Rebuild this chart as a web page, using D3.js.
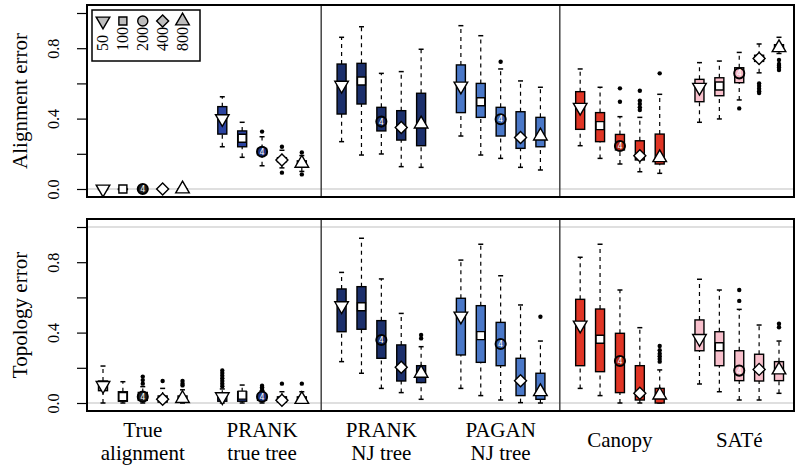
<!DOCTYPE html>
<html>
<head>
<meta charset="utf-8">
<script src="https://cdn.jsdelivr.net/npm/d3@7"></script>
<style>
  body { margin: 0; background: #fff; }
  text { font-family: "Liberation Serif", "Times New Roman", serif; fill: #000; }
</style>
</head>
<body>
<svg id="chart" width="798" height="468"></svg>
<script>
// sequence lengths (one box per length inside every method group)
const lengths = ["50", "100", "200", "400", "800"];
const groupLabels = [["True", "alignment"], ["PRANK", "true tree"], ["PRANK", "NJ tree"],
                     ["PAGAN", "NJ tree"], ["Canopy"], ["SATé"]];
const groupColors = ["#8a8a8a", "#2c44a0", "#1b2f6b", "#4a78c8", "#e03525", "#f8c0cc"];
const circleFill = ["#222222", "#1f347f", "#1b2f6b", "#3a64b0", "#b02818", "#f4b4c2"];

// box stats: [lower whisker, q1, median, q3, upper whisker, [outliers]]
const alignTrueAln = [[0,0,0,0,0,[]], [0,0,0,0,0,[]], [0,0,0,0,0,[]], [0,0,0,0,0,[]], [0,0,0,0,0,[]]];
const alignPrankTrue = [
  [0.24, 0.312, 0.40, 0.468, 0.524, []],
  [0.18, 0.24, 0.288, 0.33, 0.379, []],
  [0.132, 0.195, 0.212, 0.23, 0.297, [0.326]],
  [0.12, 0.155, 0.165, 0.178, 0.22, [0.24, 0.093]],
  [0.10, 0.135, 0.146, 0.16, 0.19, [0.208, 0.083]]];
const alignPrankNJ = [
  [0.269, 0.426, 0.59, 0.71, 0.862, []],
  [0.193, 0.483, 0.614, 0.714, 0.922, []],
  [0.199, 0.33, 0.383, 0.464, 0.657, []],
  [0.127, 0.278, 0.35, 0.445, 0.667, []],
  [0.123, 0.246, 0.369, 0.544, 0.794, []]];
const alignPaganNJ = [
  [0.301, 0.434, 0.585, 0.705, 0.928, []],
  [0.193, 0.407, 0.496, 0.60, 0.871, []],
  [0.174, 0.301, 0.396, 0.464, 0.682, [0.723]],
  [0.123, 0.231, 0.293, 0.439, 0.614, []],
  [0.108, 0.24, 0.301, 0.407, 0.578, []]];
const alignCanopy = [
  [0.246, 0.339, 0.464, 0.553, 0.682, []],
  [0.174, 0.269, 0.36, 0.434, 0.578, []],
  [0.142, 0.222, 0.244, 0.31, 0.411, [0.496, 0.572]],
  [0.098, 0.165, 0.189, 0.274, 0.407, [0.449, 0.464, 0.483, 0.502, 0.558]],
  [0.089, 0.142, 0.178, 0.312, 0.538, [0.657]]];
const alignSate = [
  [0.379, 0.496, 0.578, 0.623, 0.718, []],
  [0.398, 0.53, 0.585, 0.632, 0.727, []],
  [0.506, 0.604, 0.657, 0.689, 0.776, [0.458]],
  [0.66, 0.725, 0.742, 0.76, 0.824, [0.545, 0.555, 0.57, 0.585, 0.60]],
  [0.77, 0.79, 0.803, 0.82, 0.862, [0.676, 0.69, 0.70, 0.71, 0.733]]];

const topoTrueAln = [
  [0, 0.07, 0.10, 0.125, 0.21, []],
  [0, 0.01, 0.036, 0.064, 0.121, []],
  [0, 0.015, 0.036, 0.06, 0.093, [0.11, 0.13, 0.15]],
  [0, 0.005, 0.021, 0.04, 0.083, [0.125]],
  [0, 0.005, 0.025, 0.04, 0.075, [0.10, 0.11, 0.125]]];
const topoPrankTrue = [
  [0, 0.01, 0.036, 0.05, 0.08, [0.095, 0.11, 0.125, 0.14, 0.155, 0.17, 0.185]],
  [0, 0.01, 0.045, 0.064, 0.102, []],
  [0, 0.015, 0.036, 0.05, 0.07, [0.08, 0.09, 0.098]],
  [0, 0.005, 0.015, 0.035, 0.064, [0.11]],
  [0, 0.005, 0.02, 0.035, 0.064, [0.11]]];
const topoPrankNJ = [
  [0.235, 0.405, 0.553, 0.648, 0.742, []],
  [0.169, 0.419, 0.547, 0.661, 0.936, []],
  [0.083, 0.254, 0.358, 0.468, 0.705, []],
  [0.059, 0.125, 0.203, 0.33, 0.509, []],
  [0.021, 0.116, 0.169, 0.212, 0.32, [0.367, 0.386]]];
const topoPaganNJ = [
  [0.083, 0.273, 0.494, 0.595, 0.812, []],
  [0.042, 0.231, 0.383, 0.553, 0.902, []],
  [0.017, 0.212, 0.335, 0.458, 0.723, []],
  [0.002, 0.042, 0.127, 0.254, 0.557, []],
  [0, 0.021, 0.064, 0.169, 0.352, [0.49]]];
const topoCanopy = [
  [0.083, 0.212, 0.443, 0.589, 0.828, []],
  [0.042, 0.178, 0.362, 0.534, 0.902, []],
  [0, 0.059, 0.239, 0.396, 0.642, []],
  [0, 0.017, 0.055, 0.212, 0.428, []],
  [0, 0, 0.045, 0.083, 0.188, [0.235, 0.25, 0.265, 0.28, 0.30, 0.324]]];
const topoSate = [
  [0.108, 0.297, 0.367, 0.472, 0.703, []],
  [0.064, 0.212, 0.32, 0.405, 0.642, []],
  [0.017, 0.127, 0.184, 0.297, 0.532, [0.58, 0.642]],
  [0.017, 0.125, 0.191, 0.277, 0.443, []],
  [0.055, 0.127, 0.188, 0.235, 0.352, [0.43, 0.45]]];

const alignmentData = [alignTrueAln, alignPrankTrue, alignPrankNJ, alignPaganNJ, alignCanopy, alignSate];
const topologyData = [topoTrueAln, topoPrankTrue, topoPrankNJ, topoPaganNJ, topoCanopy, topoSate];

const svg = d3.select("#chart");
const left = 87, right = 794;

// box positions: 5 boxes per group, one empty slot between groups
const x = d3.scaleLinear().domain([1, 35]).range([103, 779]);
const pos = (g, i) => 1 + g * 6 + i;
const boxW = 9;

// marker shapes for the medians
const markerPath = [
  d3.symbol(d3.symbolTriangle, 80)(),
  d3.symbol(d3.symbolSquare, 64)(),
  d3.symbol(d3.symbolCircle, 80)(),
  d3.symbol(d3.symbolSquare, 72)(),
  d3.symbol(d3.symbolTriangle, 80)()
];
const markerRot = [180, 0, 0, 45, 0];

function drawMarker(sel, i, fill) {
  const m = sel.append("path")
    .attr("d", markerPath[i])
    .attr("fill", fill)
    .attr("stroke", "#000")
    .attr("stroke-width", i === 2 ? 2 : 1.4);
  return m;
}

const panels = [
  { top: 5, bottom: 197, data: alignmentData, title: "Alignment error", lineAtOne: false },
  { top: 219, bottom: 411, data: topologyData, title: "Topology error", lineAtOne: true }
];

panels.forEach(p => {
  const y = d3.scaleLinear().domain([0, 1]).range([p.bottom - 8, p.bottom - 8 - 176]);
  const g = svg.append("g");

  // light reference lines
  const refs = p.lineAtOne ? [0, 1] : [0];
  g.selectAll("line.ref")
    .data(refs)
    .enter()
    .append("line")
    .attr("x1", left).attr("x2", right)
    .attr("y1", d => y(d)).attr("y2", d => y(d))
    .attr("stroke", "#d4d4d4")
    .attr("stroke-width", 1.5);

  // y axis
  const axis = d3.axisLeft(y)
    .tickValues([0, 0.2, 0.4, 0.6, 0.8, 1.0])
    .tickSize(10)
    .tickFormat(d => (Math.round(d * 10) % 4 === 0 && d < 1) ? d3.format(".1f")(d) : "");
  const ax = g.append("g")
    .attr("transform", `translate(${left},0)`)
    .call(axis);
  ax.select(".domain").remove();
  ax.selectAll(".tick line").attr("stroke-width", 1.2);
  ax.selectAll(".tick text")
    .attr("x", null).attr("dy", null)
    .attr("transform", "translate(-28,0) rotate(-90)")
    .attr("text-anchor", "middle")
    .style("font-family", "'Liberation Serif', serif")
    .style("font-size", "16px");

  g.append("text")
    .attr("transform", `translate(27,${(p.top + p.bottom) / 2}) rotate(-90)`)
    .attr("text-anchor", "middle")
    .style("font-size", "21px")
    .text(p.title);

  // boxes
  p.data.forEach((groupStats, gi) => {
    groupStats.forEach((s, i) => {
      const cx = x(pos(gi, i));
      const b = g.append("g");
      // whiskers
      b.selectAll("line.whisk")
        .data([[s[0], s[1]], [s[3], s[4]]])
        .enter()
        .append("line")
        .attr("x1", cx).attr("x2", cx)
        .attr("y1", d => y(d[0])).attr("y2", d => y(d[1]))
        .attr("stroke", "#000")
        .attr("stroke-width", 1.2)
        .attr("stroke-dasharray", "4,4");
      b.selectAll("line.cap")
        .data([s[0], s[4]])
        .enter()
        .append("line")
        .attr("x1", cx - 2.5).attr("x2", cx + 2.5)
        .attr("y1", d => y(d)).attr("y2", d => y(d))
        .attr("stroke", "#000")
        .attr("stroke-width", 1.5);
      // box
      b.append("rect")
        .attr("x", cx - boxW / 2)
        .attr("y", y(s[3]))
        .attr("width", boxW)
        .attr("height", Math.max(0.5, y(s[1]) - y(s[3])))
        .attr("fill", groupColors[gi])
        .attr("stroke", "#000")
        .attr("stroke-width", 1.4);
      b.append("line")
        .attr("x1", cx - boxW / 2).attr("x2", cx + boxW / 2)
        .attr("y1", y(s[2])).attr("y2", y(s[2]))
        .attr("stroke", "#000").attr("stroke-width", 2.5);
      // outliers
      b.selectAll("circle.out")
        .data(s[5])
        .enter()
        .append("circle")
        .attr("cx", cx).attr("cy", d => y(d))
        .attr("r", 2.2)
        .attr("fill", "#000");
      // median marker
      const fill = i === 2 ? circleFill[gi] : "#fff";
      drawMarker(b, i, fill)
        .attr("transform", `translate(${cx},${y(s[2])}) rotate(${markerRot[i]})`);
      if (i === 2) {
        b.append("text")
          .attr("x", cx).attr("y", y(s[2]) + 3)
          .attr("text-anchor", "middle")
          .style("font-size", "8px")
          .style("font-family", "'DejaVu Sans', sans-serif")
          .style("fill", "#fff")
          .text("4");
      }
    });
  });

  // group dividers
  g.selectAll("line.div")
    .data([12, 24])
    .enter()
    .append("line")
    .attr("x1", d => x(d) - 0.5).attr("x2", d => x(d) - 0.5)
    .attr("y1", p.top).attr("y2", p.bottom)
    .attr("stroke", "#444")
    .attr("stroke-width", 1.5);

  // panel frame
  g.append("rect")
    .attr("x", left).attr("y", p.top)
    .attr("width", right - left).attr("height", p.bottom - p.top)
    .attr("fill", "none")
    .attr("stroke", "#000")
    .attr("stroke-width", 2);
});

// group labels below the bottom panel
const labels = svg.append("g");
groupLabels.forEach((lines, gi) => {
  const cx = x(pos(gi, 2));
  const t = labels.append("text")
    .attr("text-anchor", "middle")
    .style("font-size", "21px");
  const y0 = lines.length === 2 ? 437 : 447;
  lines.forEach((ln, k) => {
    t.append("tspan")
      .attr("x", cx)
      .attr("y", y0 + k * 23)
      .text(ln);
  });
});

// legend
const legend = svg.append("g");
legend.append("rect")
  .attr("x", 92).attr("y", 10)
  .attr("width", 108).attr("height", 51)
  .attr("fill", "#fff")
  .attr("stroke", "#000")
  .attr("stroke-width", 1.5);
lengths.forEach((len, i) => {
  const cx = x(pos(0, i));
  drawMarker(legend, i, "#bdbdbd")
    .attr("stroke-width", 1.4)
    .attr("transform", `translate(${cx},21) rotate(${markerRot[i]})`);
  legend.append("text")
    .attr("transform", `translate(${cx + 5},51) rotate(-90)`)
    .attr("text-anchor", "start")
    .style("font-size", "16px")
    .text(len);
});
</script>
</body>
</html>
